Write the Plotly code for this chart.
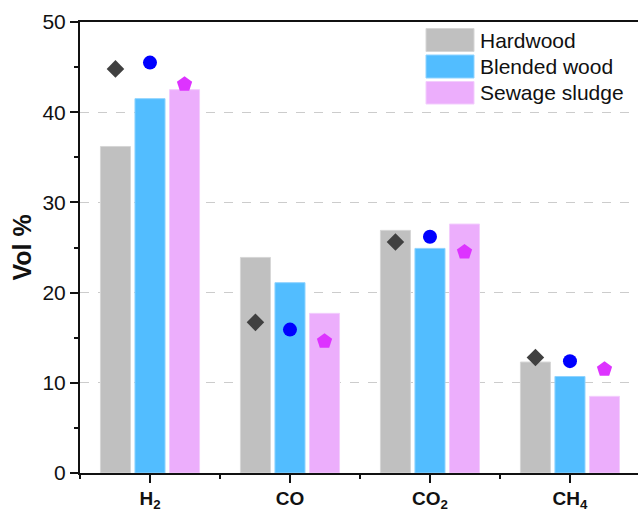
import plotly.graph_objects as go

categories = ["<b>H<sub>2</sub></b>", "<b>CO</b>", "<b>CO<sub>2</sub></b>", "<b>CH<sub>4</sub></b>"]
series_names = ["Hardwood", "Blended wood", "Sewage sludge"]

bar_hardwood = [36.2, 23.9, 26.9, 12.3]
bar_blended = [41.5, 21.1, 24.9, 10.7]
bar_sludge = [42.5, 17.7, 27.6, 8.5]

pt_hardwood = [44.8, 16.7, 25.6, 12.8]
pt_blended = [45.5, 15.9, 26.2, 12.4]
pt_sludge = [43.1, 14.6, 24.5, 11.5]

y_ticks = [0, 10, 20, 30, 40, 50]

bar_colors = ["#c0c0c0", "#52bdff", "#ecaefc"]
bar_edges = ["#d6d6d6", "#8fd3ff", "#f3cdfd"]
pt_colors = ["#404040", "#0000ff", "#dd33ff"]
pt_symbols = ["diamond", "circle", "pentagon"]
pt_sizes = [13.5, 14, 16]

xpos = list(range(len(categories)))
bars = [bar_hardwood, bar_blended, bar_sludge]
pts = [pt_hardwood, pt_blended, pt_sludge]

fig = go.Figure()
for i, name in enumerate(series_names):
    fig.add_trace(go.Bar(
        x=xpos, y=bars[i], name=name, offsetgroup=str(i),
        marker=dict(color=bar_colors[i], line=dict(color=bar_edges[i], width=1)),
        showlegend=False,
    ))
for i, name in enumerate(series_names):
    fig.add_trace(go.Scatter(
        x=xpos, y=pts[i], name=name, mode="markers", offsetgroup=str(i),
        marker=dict(color=pt_colors[i], symbol=pt_symbols[i], size=pt_sizes[i], line=dict(width=0)),
        showlegend=False,
    ))

# manual legend (paper coords)
L, T, W, H = 80, 22, 558, 451
def px(x):
    return (x - L) / W
def py(y):
    return (T + H - y) / H

rows = [(28.5, 51.5), (55, 78), (81.5, 104)]
for i, name in enumerate(series_names):
    y0, y1 = rows[i]
    fig.add_shape(type="rect", xref="paper", yref="paper",
                  x0=px(426), x1=px(474), y0=py(y1), y1=py(y0),
                  fillcolor=bar_colors[i], line=dict(color=bar_edges[i], width=1))
    fig.add_annotation(xref="paper", yref="paper", x=px(478), y=py((y0 + y1) / 2),
                       text=name, showarrow=False, xanchor="left", yanchor="middle",
                       font=dict(family="Liberation Sans, Arial", size=21, color="#111"))

fig.update_layout(
    width=638, height=511,
    margin=dict(l=80, r=0, t=22, b=38),
    plot_bgcolor="white", paper_bgcolor="white",
    barmode="group", bargap=0.26, bargroupgap=0.13,
    scattermode="group", scattergap=0.26,
    font=dict(family="Liberation Sans, Arial", size=21, color="#111"),
    xaxis=dict(
        range=[-0.5, 3.486], tickvals=xpos, ticktext=categories,
        ticks="outside", ticklen=8, tickwidth=1.5, tickcolor="#111",
        showline=True, linewidth=2, linecolor="#111", mirror=True,
        showgrid=False, zeroline=False, automargin=False,
        tickfont=dict(size=19, color="#111"), ticklabelstandoff=-1,
        minor=dict(tickvals=[-0.5, 0.5, 1.5, 2.5], ticks="outside", ticklen=4, tickwidth=1.5, tickcolor="#111", showgrid=False),
    ),
    yaxis=dict(
        range=[0, 50], tickvals=y_ticks,
        ticks="outside", ticklen=8, tickwidth=1.5, tickcolor="#111",
        showline=True, linewidth=2, linecolor="#111",
        showgrid=True, gridcolor="#cccccc", griddash="dash", gridwidth=1,
        zeroline=False, automargin=False,
        tickfont=dict(size=21, color="#111"),
        minor=dict(dtick=5, ticks="outside", ticklen=4, tickwidth=1.5, tickcolor="#111", showgrid=False),
        title=dict(text="<b>Vol %</b>", font=dict(size=25, color="#111"), standoff=4),
    ),
)

fig.write_html("out.html", config={"displayModeBar": False},
               post_script="document.body.style.margin='0';document.body.style.padding='0';")
